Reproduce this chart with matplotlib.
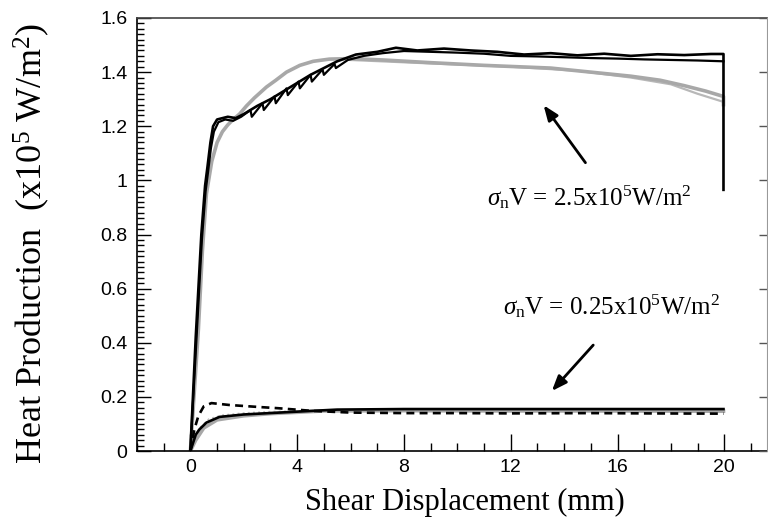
import matplotlib
matplotlib.use("Agg")
import matplotlib.pyplot as plt
from matplotlib.ticker import MultipleLocator, FixedLocator

# ---------------- data ----------------
# High load  sigma_n V = 2.5e5 W/m^2
hi_black_a_x = [0, 0.2, 0.41, 0.55, 0.64, 0.75, 0.85, 1.0, 1.2, 1.4, 1.7, 2.0, 2.5, 3.0, 3.5, 4.0, 4.5, 5.0,
                5.5, 6.2, 7.0, 7.7, 8.5, 9.5, 10.5, 11.5, 12.5, 13.5, 14.5, 15.5, 16.5, 17.5, 18.5, 19.5, 19.97, 19.97]
hi_black_a_y = [0, 0.42, 0.80, 0.98, 1.05, 1.14, 1.20, 1.225, 1.23, 1.235, 1.23, 1.245, 1.275, 1.30, 1.33, 1.36, 1.39, 1.415,
                1.44, 1.465, 1.475, 1.49, 1.48, 1.487, 1.48, 1.475, 1.465, 1.47, 1.462, 1.468, 1.46, 1.466, 1.463, 1.467, 1.467, 0.965]

hi_black_b_x = [0, 0.22, 0.43, 0.57, 0.66, 0.77, 0.88, 1.05, 1.3, 1.6, 1.9, 2.25, 2.3, 2.7, 2.75, 3.15, 3.2, 3.6, 3.65,
                4.05, 4.1, 4.5, 4.55, 4.95, 5.0, 5.4, 5.45, 5.9, 6.5, 7.2, 8.0, 9.0, 10.0, 11.0, 12.0, 13.0, 14.0, 15.0,
                16.0, 17.0, 18.0, 19.0, 19.97]
hi_black_b_y = [0, 0.40, 0.78, 0.96, 1.03, 1.12, 1.18, 1.215, 1.225, 1.22, 1.235, 1.26, 1.235, 1.285, 1.26, 1.31, 1.285,
                1.34, 1.315, 1.365, 1.34, 1.39, 1.365, 1.41, 1.39, 1.43, 1.415, 1.445, 1.46, 1.47, 1.478, 1.475, 1.472,
                1.468, 1.46, 1.458, 1.455, 1.452, 1.45, 1.447, 1.445, 1.443, 1.44]

hi_gray_x = [0, 0.3, 0.45, 0.6, 0.8, 1.0, 1.2, 1.4, 1.6, 1.84, 2.1, 2.4, 2.85, 3.2, 3.6, 4.1, 4.6, 5.2, 5.97, 7.2,
             9.0, 11.0, 13.5, 15.0, 16.5, 17.6, 18.5, 19.3, 19.97, 19.97]
hi_gray_y = [0, 0.45, 0.74, 0.95, 1.07, 1.14, 1.18, 1.205, 1.225, 1.245, 1.275, 1.305, 1.345, 1.37, 1.40, 1.425,
             1.44, 1.448, 1.45, 1.445, 1.435, 1.425, 1.415, 1.40, 1.385, 1.37, 1.35, 1.33, 1.31, 1.28]

hi_gray2_x = [5.97, 9.0, 12.0, 14.5, 16.5, 18.0, 19.0, 19.97]
hi_gray2_y = [1.445, 1.432, 1.42, 1.405, 1.38, 1.355, 1.32, 1.29]

# Low load  sigma_n V = 0.25e5 W/m^2
lo_black_x = [0, 0.1, 0.2, 0.34, 0.6, 1.09, 2.0, 3.34, 4.5, 5.5, 8.0, 12.0, 16.0, 19.97]
lo_black_y = [0, 0.03, 0.06, 0.08, 0.105, 0.126, 0.135, 0.142, 0.148, 0.153, 0.155, 0.155, 0.155, 0.155]

lo_dash_x = [0, 0.15, 0.3, 0.5, 0.79, 1.46, 2.5, 3.3, 4.6, 6.0, 8.0, 10.0, 12.0, 15.0, 17.0, 19.97]
lo_dash_y = [0, 0.08, 0.13, 0.165, 0.177, 0.17, 0.163, 0.158, 0.148, 0.142, 0.14, 0.14, 0.139, 0.14, 0.139, 0.138]

lo_gray_x = [0, 0.2, 0.5, 1.0, 2.0, 3.0, 5.0, 8.0, 12.0, 15.0, 19.97]
lo_gray_y = [0, 0.04, 0.085, 0.115, 0.13, 0.138, 0.148, 0.149, 0.148, 0.148, 0.147]

lo_gray2_x = [0, 0.3, 0.7, 1.2, 2.0, 3.0, 4.5]
lo_gray2_y = [0, 0.08, 0.118, 0.132, 0.14, 0.145, 0.148]

x_major = [0, 4, 8, 12, 16, 20]
y_major = [0, 0.2, 0.4, 0.6, 0.8, 1.0, 1.2, 1.4, 1.6]
y_labels = ["0", "0.2", "0.4", "0.6", "0.8", "1", "1.2", "1.4", "1.6"]

label_hi = r"$\sigma_{\rm n}$V = 2.5x10$^5$W/m$^2$"
label_lo = r"$\sigma_{\rm n}$V = 0.25x10$^5$W/m$^2$"

# ---------------- figure ----------------
plt.rcParams["mathtext.fontset"] = "custom"
plt.rcParams["mathtext.rm"] = "Liberation Serif"
plt.rcParams["mathtext.it"] = "Liberation Serif:italic"
plt.rcParams["mathtext.bf"] = "Liberation Serif:bold"

fig = plt.figure(figsize=(7.68, 5.24), dpi=100)
ax = fig.add_axes([137 / 768, 1 - 451 / 524, 630 / 768, 433 / 524])

gray = "#a8a8a8"
ax.plot(hi_gray2_x, hi_gray2_y, color="#b8b8b8", lw=1.6, zorder=2)
ax.plot(hi_gray_x, hi_gray_y, color=gray, lw=2.6, zorder=2)
ax.plot(hi_black_b_x, hi_black_b_y, color="black", lw=1.6, zorder=3)
ax.plot(hi_black_a_x, hi_black_a_y, color="black", lw=1.9, zorder=3)

ax.plot(lo_gray2_x, lo_gray2_y, color="#c0c0c0", lw=1.4, ls=":", zorder=2)
ax.plot(lo_gray_x, lo_gray_y, color=gray, lw=2.6, zorder=2)
ax.plot(lo_black_x, lo_black_y, color="black", lw=1.9, zorder=3)
ax.plot(lo_dash_x, lo_dash_y, color="black", lw=1.9, ls=(0, (3, 2)), zorder=3)

ax.set_xlim(-2.0, 21.6)
ax.set_ylim(0, 1.6)

ax.xaxis.set_major_locator(FixedLocator(x_major))
ax.xaxis.set_minor_locator(MultipleLocator(1))
ax.yaxis.set_major_locator(FixedLocator(y_major))
ax.yaxis.set_minor_locator(MultipleLocator(0.02))
ax.set_xticklabels([str(v) for v in x_major])
ax.set_yticklabels(y_labels)

ax.tick_params(which="both", direction="in", top=False, right=False, width=1)
ax.tick_params(axis="x", which="major", length=12, pad=6)
ax.tick_params(axis="x", which="minor", length=6)
ax.tick_params(axis="y", which="major", length=10, pad=7)
ax.tick_params(axis="y", which="minor", length=5)
for lab in ax.get_xticklabels() + ax.get_yticklabels():
    lab.set_fontfamily("Liberation Sans")
    lab.set_fontsize(14)

ax2 = ax.twinx()
ax2.set_ylim(0, 1.6)
ax2.yaxis.set_major_locator(FixedLocator(y_major))
ax2.tick_params(axis="y", direction="in", length=6, labelright=False, width=1, color="#555555")
ax2.spines["right"].set_color("#999999")
ax2.spines["right"].set_linewidth(0.8)
for s in ["top", "left", "bottom"]:
    ax2.spines[s].set_visible(False)

ax.spines["top"].set_color("#444444")
ax.spines["top"].set_linewidth(1.2)
ax.spines["right"].set_visible(False)
ax.spines["left"].set_linewidth(1.2)
ax.spines["bottom"].set_linewidth(1.2)

ax.set_xlabel("Shear Displacement (mm)", fontfamily="Liberation Serif", fontsize=22)
ax.set_ylabel(r"Heat Production  (x10$^5$ W/m$^2$)", fontfamily="Liberation Serif", fontsize=26)
ax.xaxis.set_label_coords(0.52, -0.085)
ax.yaxis.set_label_coords(-0.135, 0.48)

ax.text(11.1, 0.909, label_hi, fontfamily="Liberation Serif", fontsize=18, ha="left", va="baseline")
ax.text(11.7, 0.503, label_lo, fontfamily="Liberation Serif", fontsize=18, ha="left", va="baseline")

ax.annotate("", xy=(13.17, 1.286), xytext=(14.86, 1.057),
            arrowprops=dict(arrowstyle="-|>,head_length=0.9,head_width=0.35", color="black", lw=2))
ax.annotate("", xy=(13.47, 0.214), xytext=(15.16, 0.399),
            arrowprops=dict(arrowstyle="-|>,head_length=0.9,head_width=0.35", color="black", lw=2))

fig.savefig("out.png", dpi=100)
